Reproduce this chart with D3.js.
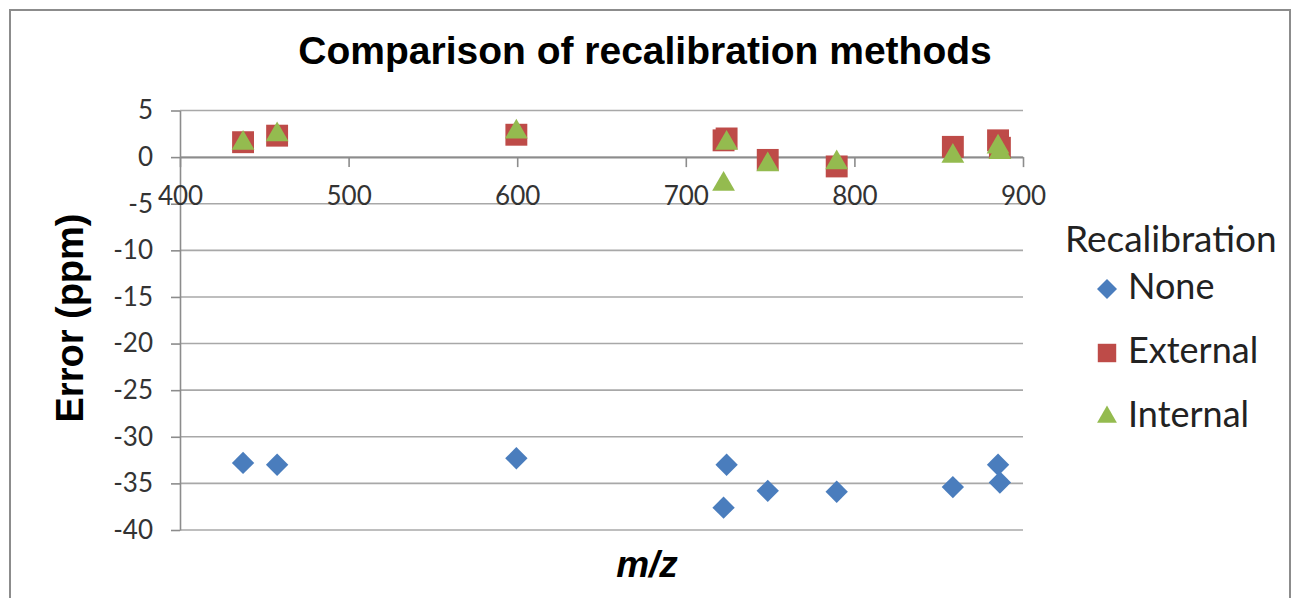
<!DOCTYPE html>
<html>
<head>
<meta charset="utf-8">
<script src="https://cdn.jsdelivr.net/npm/d3@7"></script>
<style>
  body { margin: 0; background: #fff; }
  svg text { fill: #333; }
</style>
</head>
<body>
<div id="drawing-area"></div>
<script>
// m/z of the calibrants, and error of each recalibration method (ppm)
var mz = [437.4, 457.6, 599.5, 722.4, 724.2, 748.6, 789.5, 858.4, 885.2, 886.3];
var errNone = [-32.8, -33.0, -32.3, -37.6, -33.0, -35.8, -35.9, -35.4, -33.0, -34.9];
var errExternal = [1.6, 2.3, 2.4, 1.8, 2.0, -0.3, -1.0, 1.1, 1.8, 1.0];
var errInternal = [1.5, 2.4, 2.7, -2.9, 1.5, -0.8, -0.6, 0.1, 1.1, 0.5];

var seriesNames = ['None', 'External', 'Internal'];
var xTicks = [400, 500, 600, 700, 800, 900];
var yTicks = [5, 0, -5, -10, -15, -20, -25, -30, -35, -40];

(function () {
  var colors = { None: '#4a7dbd', External: '#be4b48', Internal: '#94bb4f' };

  var svg = d3.select('#drawing-area').append('svg')
    .attr('width', 1300)
    .attr('height', 598);

  // chart frame
  svg.append('rect')
    .attr('x', 10).attr('y', 10)
    .attr('width', 1280).attr('height', 600)
    .attr('fill', '#fff')
    .attr('stroke', '#8c8c8c')
    .attr('stroke-width', 2);

  var x = d3.scaleLinear().domain([400, 900]).range([180, 1023]);
  var y = d3.scaleLinear().domain([-40, 5]).range([530, 110.5]);

  // gridlines
  svg.append('g').selectAll('line')
    .data(yTicks)
    .enter().append('line')
    .attr('x1', x(400)).attr('x2', x(900))
    .attr('y1', function(d) { return y(d); })
    .attr('y2', function(d) { return y(d); })
    .attr('stroke', '#a8a8a8')
    .attr('stroke-width', 1.6);

  // plain hyphen for negatives, like the original
  var plain = function(d) { return String(d); };

  var yAxis = svg.append('g')
    .attr('transform', 'translate(' + x(400) + ',0)')
    .call(d3.axisLeft(y).tickValues(yTicks).tickFormat(plain)
      .tickSize(9).tickSizeOuter(0).tickPadding(18));

  var xAxis = svg.append('g')
    .attr('transform', 'translate(0,' + y(0) + ')')
    .call(d3.axisBottom(x).tickValues(xTicks).tickFormat(plain)
      .tickSize(10).tickSizeOuter(0));

  [yAxis, xAxis].forEach(function(ax) {
    ax.select('.domain').attr('stroke', '#8c8c8c').attr('stroke-width', 1.6);
    ax.selectAll('.tick line').attr('stroke', '#8c8c8c').attr('stroke-width', 1.6);
    ax.selectAll('.tick text')
      .style('font-family', 'Lato, sans-serif')
      .style('font-size', '26px')
      .attr('fill', '#333');
  });
  xAxis.selectAll('.tick text').attr('y', 48).attr('dy', '0');

  // markers
  var diamond = d3.symbol().type(d3.symbolSquare).size(250);
  var square = d3.symbol().type(d3.symbolSquare).size(480);
  var triangle = d3.symbol().type(d3.symbolTriangle).size(225);

  svg.append('g').selectAll('path')
    .data(errNone)
    .enter().append('path')
    .attr('d', diamond)
    .attr('transform', function(d, i) {
      return 'translate(' + x(mz[i]) + ',' + y(d) + ') rotate(45)';
    })
    .attr('fill', colors.None);

  svg.append('g').selectAll('path')
    .data(errExternal)
    .enter().append('path')
    .attr('d', square)
    .attr('transform', function(d, i) {
      return 'translate(' + x(mz[i]) + ',' + y(d) + ')';
    })
    .attr('fill', colors.External);

  svg.append('g').selectAll('path')
    .data(errInternal)
    .enter().append('path')
    .attr('d', triangle)
    .attr('transform', function(d, i) {
      return 'translate(' + x(mz[i]) + ',' + y(d) + ')';
    })
    .attr('fill', colors.Internal);

  // titles
  svg.append('text')
    .attr('x', 645).attr('y', 64)
    .attr('text-anchor', 'middle')
    .style('font-family', '"Liberation Sans", Arial, sans-serif')
    .style('font-weight', 'bold')
    .style('font-size', '39px')
    .style('fill', '#000')
    .text('Comparison of recalibration methods');

  svg.append('text')
    .attr('transform', 'translate(83,318) rotate(-90)')
    .attr('text-anchor', 'middle')
    .style('font-family', '"Liberation Sans", Arial, sans-serif')
    .style('font-weight', 'bold')
    .style('font-size', '38px')
    .style('fill', '#000')
    .text('Error (ppm)');

  svg.append('text')
    .attr('x', 647).attr('y', 577)
    .attr('text-anchor', 'middle')
    .style('font-family', '"Liberation Sans", Arial, sans-serif')
    .style('font-weight', 'bold')
    .style('font-style', 'italic')
    .style('font-size', '37px')
    .style('fill', '#000')
    .text('m/z');

  // legend
  var legend = svg.append('g');
  legend.append('text')
    .attr('x', 1065).attr('y', 252)
    .style('font-family', 'Lato, sans-serif')
    .style('font-size', '37px')
    .style('fill', '#222')
    .text('Recalibration');

  var legendY = d3.scalePoint().domain(seriesNames).range([299, 427]);
  var legendSymbols = {
    None: d3.symbol().type(d3.symbolSquare).size(200),
    External: d3.symbol().type(d3.symbolSquare).size(340),
    Internal: d3.symbol().type(d3.symbolTriangle).size(170)
  };

  var item = legend.selectAll('g.item')
    .data(seriesNames)
    .enter().append('g')
    .attr('class', 'item');

  item.append('path')
    .attr('d', function(d) { return legendSymbols[d](); })
    .attr('transform', function(d) {
      return 'translate(1107,' + (legendY(d) - 10) + ')' + (d === 'None' ? ' rotate(45)' : '');
    })
    .attr('fill', function(d) { return colors[d]; });

  item.append('text')
    .attr('x', 1128)
    .attr('y', function(d) { return legendY(d); })
    .style('font-family', 'Lato, sans-serif')
    .style('font-size', '36px')
    .style('fill', '#222')
    .text(function(d) { return d; });
})();
</script>
</body>
</html>
